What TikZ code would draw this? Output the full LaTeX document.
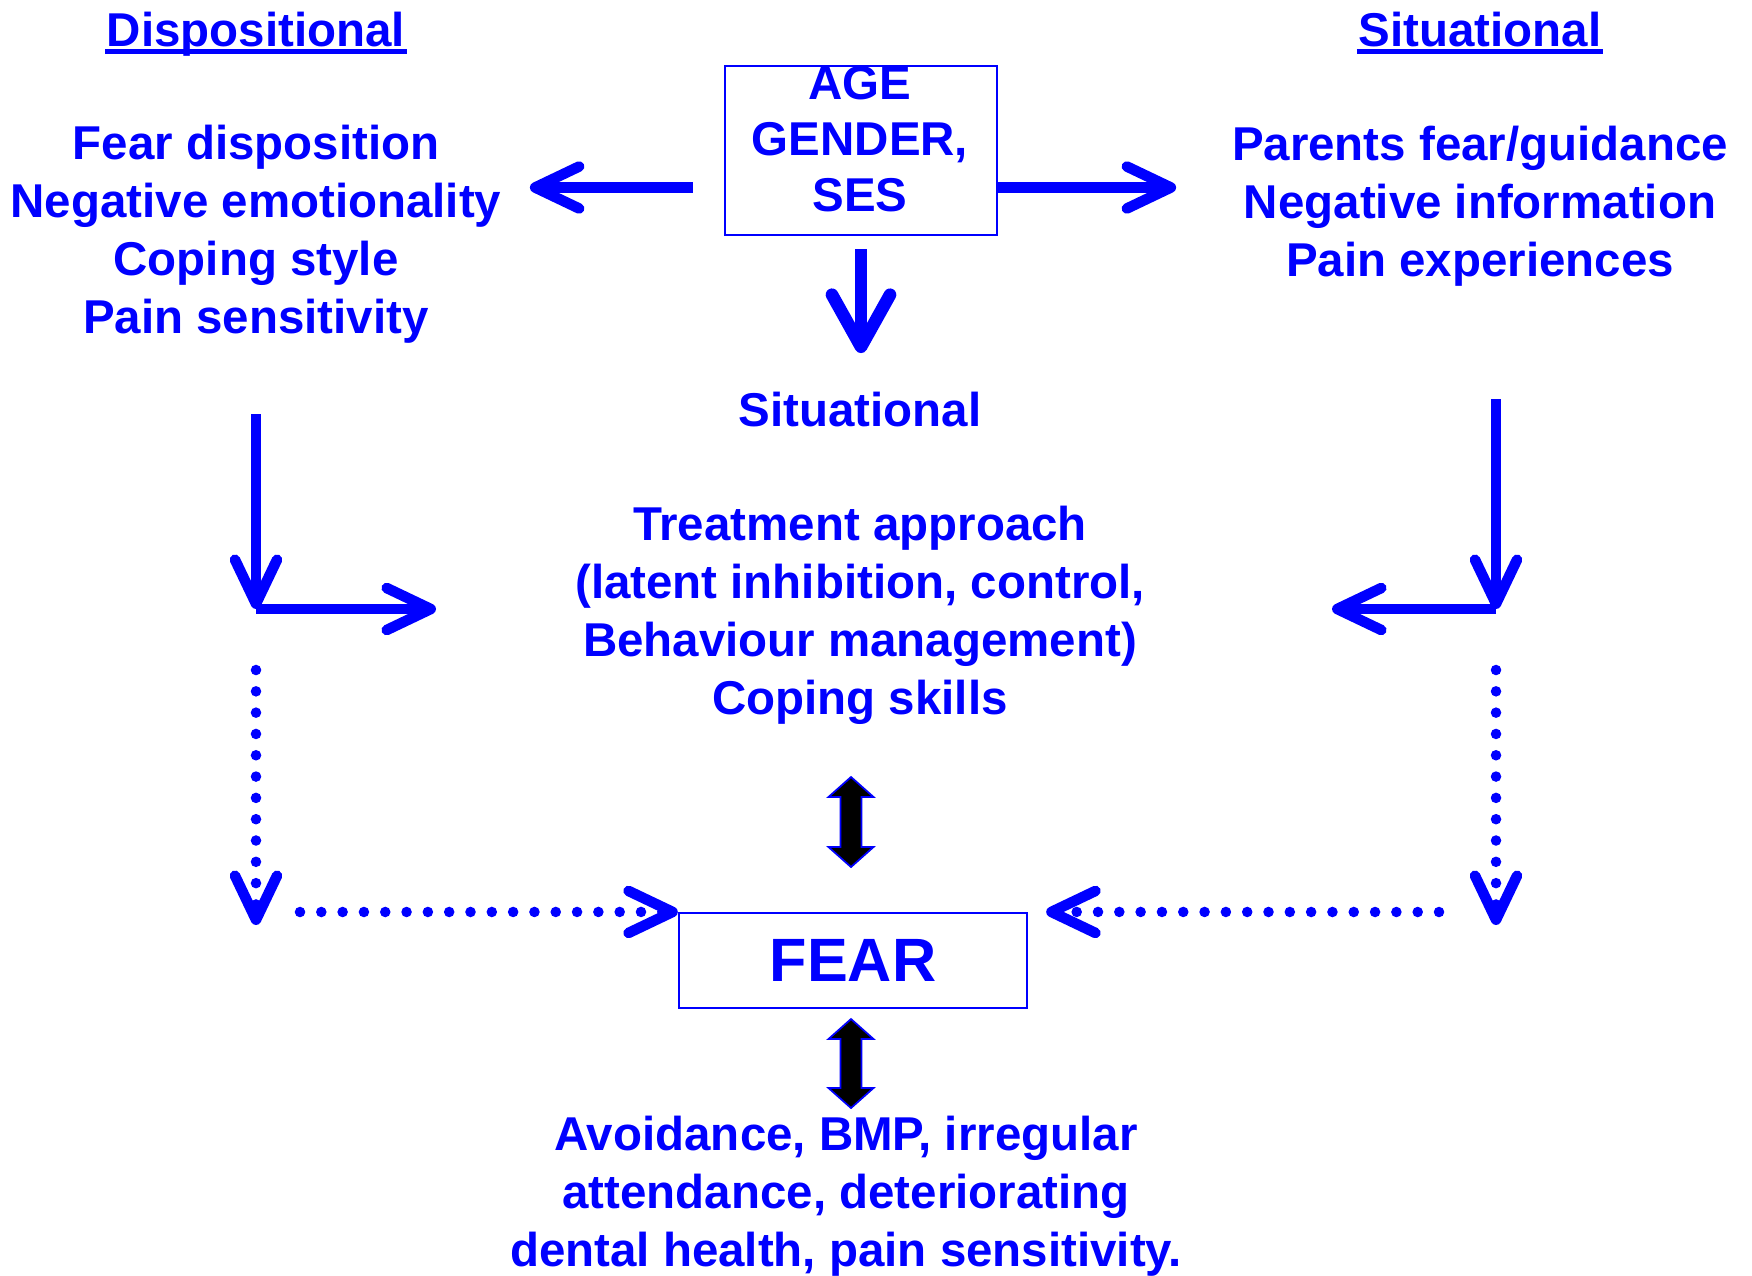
\documentclass[tikz,border=0pt]{standalone}
\usepackage{fontspec}
\setmainfont{Liberation Sans}
\usepackage{tikz}
\usetikzlibrary{arrows.meta}
\definecolor{FearBlue}{RGB}{0,0,255}
\newcommand{\hdline}[1]{\setbox0\hbox{#1}\rlap{\kern-0.5pt\rule[-2.2pt]{\dimexpr\wd0+1pt\relax}{1.3pt}}\box0}

\begin{document}
\begin{tikzpicture}[x=0.01cm, y=-0.01cm,
  txt/.style={text=FearBlue, font=\fontsize{13.5}{16.5}\selectfont\bfseries,
    align=center, inner sep=0pt},
  box/.style={draw=FearBlue, line width=0.6pt, inner sep=0pt},
  arr/.style={draw=FearBlue, line width=3pt,
    -{Straight Barb[length=4.4mm, width=4.2mm, round]}},
  arrbig/.style={arr, line width=3.6pt,
    -{Straight Barb[length=5.2mm, width=5.8mm, round]}},
  dots/.style={arr, line cap=round, dash pattern=on 0pt off 2.13mm},
  dbl/.style={draw=FearBlue, fill=black, line width=0.5pt}]
  \useasboundingbox (0,0) rectangle (1752,1275);

  % headings and lists
  \node[txt, anchor=base] (disphd) at (256,46) {\hdline{Dispositional}};
  \node[txt] (displist) at (256,234) {Fear disposition\\Negative emotionality\\Coping style\\Pain sensitivity};
  \node[txt, anchor=base] (sithd) at (1480,46) {\hdline{Situational}};
  \node[txt] (sitlist) at (1480,206) {Parents fear/guidance\\Negative information\\Pain experiences};

  % demographics box
  \node[box, minimum width=2.72cm, minimum height=1.69cm] (demo) at (861,150.5) {};
  \node[txt, font=\fontsize{13.5}{16}\selectfont\bfseries] (demotxt) at (860,139) {AGE\\GENDER,\\SES};

  \node[txt] (sitmid) at (860,410) {Situational};
  \node[txt] (treat) at (860,615) {Treatment approach\\(latent inhibition, control,\\Behaviour management)\\Coping skills};
  \node[box, text=FearBlue, font=\fontsize{17.4}{20}\selectfont\bfseries,
    minimum width=3.48cm, minimum height=0.95cm] (fear) at (853,960.5) {FEAR};
  \node[txt] (outcome) at (846,1196) {Avoidance, BMP, irregular\\attendance, deteriorating\\dental health, pain sensitivity.};

  % arrows from the box
  \draw[arr] ([shift={(-31,37)}]demo.west) -- ([shift={(-194,37)}]demo.west);
  \draw[arr] ([shift={(0,37)}]demo.east) -- ([shift={(178,37)}]demo.east);
  \draw[arrbig] ([shift={(0,13)}]demo.south) -- ([shift={(0,117)}]demo.south);

  % corner arrows
  \coordinate (lk) at (256,609);
  \coordinate (rk) at (1496,609);
  \draw[arr] (lk |- 0,414) -- (lk);
  \draw[arr] (lk) -- ++(180,0);
  \draw[arr] (rk |- 0,399) -- (rk);
  \draw[arr] (rk) -- ++(-164,0);

  % dotted paths to FEAR
  \draw[dots] (lk |- 0,670) -- (lk |- 0,925);
  \draw[dots] (300,912) -- (fear.north west);
  \draw[dots] (rk |- 0,670) -- (rk |- 0,925);
  \draw[dots] (1439,912) -- ([shift={(18,0)}]fear.north east);

  % double arrows
  \foreach \yt/\yb in {777/867, 1019/1108}
    \draw[dbl] (851,\yt) -- ++(22.5,20) -- ++(-12,0) -- (861.5,{\yb-20}) -- ++(12,0)
      -- (851,\yb) -- ++(-22.5,-20) -- ++(12,0) -- (840.5,{\yt+20}) -- ++(-12,0) -- cycle;
\end{tikzpicture}
\end{document}
